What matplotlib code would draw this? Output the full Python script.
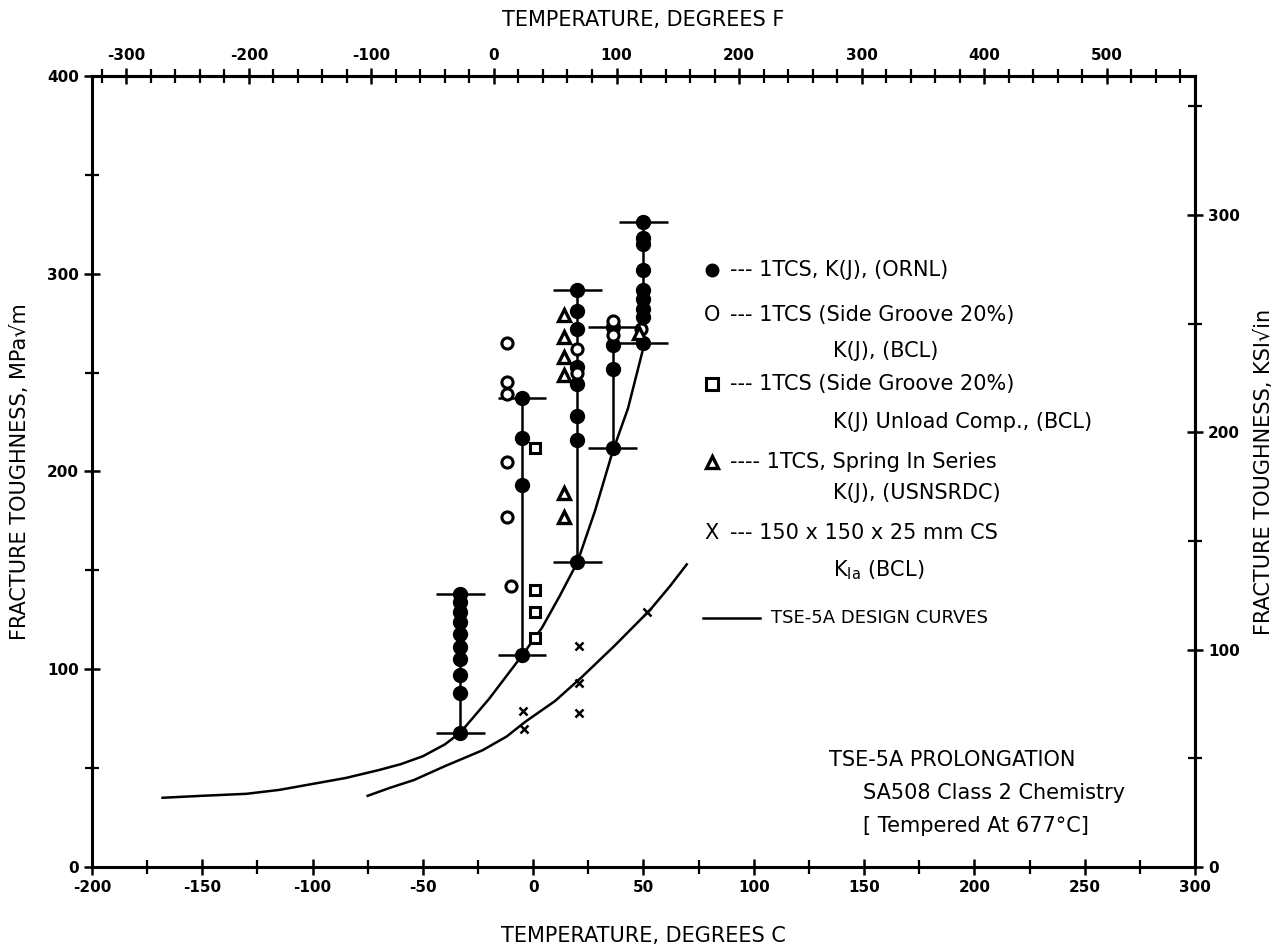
import matplotlib.pyplot as plt
from matplotlib.ticker import FixedLocator, MultipleLocator

plt.rc("font", family="DejaVu Sans")
plt.rc("axes", unicode_minus=False)

# 1TCS, K(J), ORNL -- one column of points per test temperature (deg C)
ornl_temps = [-33, -5, 20, 36, 50]
ornl_k = [
    [138, 134, 129, 124, 118, 111, 105, 97, 88, 68],
    [237, 217, 193, 107],
    [292, 281, 272, 253, 244, 228, 216, 154],
    [273, 264, 252, 212],
    [326, 318, 315, 302, 292, 287, 282, 278, 265],
]

# 1TCS side groove 20%, K(J), BCL
bcl_t = [-12, -12, -12, -12, -12, -10, 20, 20, 36, 36, 49]
bcl_k = [265, 245, 239, 205, 177, 142, 262, 250, 276, 269, 272]

# 1TCS side groove 20%, K(J) unload compliance, BCL
unload_t = [1, 1, 1, 1]
unload_k = [212, 140, 129, 116]

# 1TCS spring in series, K(J), USNSRDC
spring_t = [14, 14, 14, 14, 14, 14, 48]
spring_k = [279, 268, 258, 249, 189, 177, 270]

# 150 x 150 x 25 mm CS, KIa, BCL
kia_t = [-4.5, -4, 20.7, 20.9, 20.7, 51.7]
kia_k = [79, 70, 112, 93, 78, 129]

# TSE-5A design curves
upper_t = [-168, -150, -130, -115, -100, -85, -70, -60, -50, -40, -33, -20,
           -5, 4, 12, 20, 28, 36, 43, 50.5]
upper_k = [35, 36, 37, 39, 42, 45, 49, 52, 56, 62, 68, 85,
           107, 121, 137, 154, 180, 210, 232, 265]
lower_t = [-75, -65, -54, -40, -23, -12, -3.5, 10, 22, 37, 53, 62, 69.6]
lower_k = [36, 40, 44, 51, 59, 66, 73.5, 84, 96, 112, 130, 142, 153]

# secondary scales
f_labels = [-300, -200, -100, 0, 100, 200, 300, 400, 500]
ksi_labels = [0, 100, 200, 300]

legend_lines = [
    "--- 1TCS, K(J), (ORNL)",
    "--- 1TCS (Side Groove 20%)",
    "K(J), (BCL)",
    "--- 1TCS (Side Groove 20%)",
    "K(J) Unload Comp., (BCL)",
    "---- 1TCS, Spring In Series",
    "K(J), (USNSRDC)",
    "--- 150 x 150 x 25 mm CS",
    r"K$_{\mathrm{Ia}}$ (BCL)",
]


def c2f(t):
    return t * 9.0 / 5.0 + 32.0


def f2c(t):
    return (t - 32.0) * 5.0 / 9.0


def mpa2ksi(k):
    return k / 1.0988


def ksi2mpa(k):
    return k * 1.0988


fig = plt.figure(figsize=(12.88, 9.52), dpi=100)
ax = fig.add_axes([0.0714, 0.0893, 0.8564, 0.8309])

# design curves
ax.plot(upper_t, upper_k, color="black", lw=1.8, zorder=2)
ax.plot(lower_t, lower_k, color="black", lw=1.8, zorder=2)

# ORNL columns with range bars
for t, ks in zip(ornl_temps, ornl_k):
    ax.vlines(t, min(ks), max(ks), color="black", lw=1.8, zorder=2)
    ax.hlines([min(ks), max(ks)], t - 11, t + 11, color="black", lw=1.8, zorder=2)
    ax.plot([t] * len(ks), ks, "o", color="black", ms=10, zorder=3)

ax.plot(bcl_t, bcl_k, "o", mfc="white", mec="black", mew=2.2, ms=8, zorder=4)
ax.plot(unload_t, unload_k, "s", mfc="white", mec="black", mew=2.2, ms=7, zorder=4)
ax.plot(spring_t, spring_k, "^", mfc="white", mec="black", mew=2.4, ms=9, zorder=4)
ax.plot(kia_t, kia_k, "x", color="black", mew=1.8, ms=6, zorder=4)

ax.set_xlim(-200, 300)
ax.set_ylim(0, 400)
ax.xaxis.set_major_locator(MultipleLocator(50))
ax.xaxis.set_minor_locator(MultipleLocator(25))
ax.yaxis.set_major_locator(MultipleLocator(100))
ax.yaxis.set_minor_locator(MultipleLocator(50))

top = ax.secondary_xaxis("top", functions=(c2f, f2c))
top.xaxis.set_major_locator(FixedLocator(f_labels))
top.xaxis.set_minor_locator(FixedLocator(range(-320, 561, 20)))
right = ax.secondary_yaxis("right", functions=(mpa2ksi, ksi2mpa))
right.yaxis.set_major_locator(FixedLocator(ksi_labels))
right.yaxis.set_minor_locator(FixedLocator([50, 150, 250, 350]))

for a in (ax, top, right):
    a.tick_params(which="major", direction="inout", length=12, width=1.8,
                  labelsize=11)
    a.tick_params(which="minor", direction="inout", length=10, width=1.6)
    for lab in a.get_xticklabels() + a.get_yticklabels():
        lab.set_fontweight("bold")
    for s in a.spines.values():
        s.set_linewidth(2.2)
for s in ax.spines.values():
    s.set_linewidth(2.2)

ax.set_xlabel("TEMPERATURE, DEGREES C", fontsize=15, labelpad=22)
top.set_xlabel("TEMPERATURE, DEGREES F", fontsize=15, labelpad=16)
ax.set_ylabel("FRACTURE TOUGHNESS, MPa\u221am", fontsize=15, labelpad=12)
right.set_ylabel("FRACTURE TOUGHNESS, KSI\u221ain", fontsize=15, labelpad=10)

# hand-lettered legend
leg_y = [302, 279, 261, 244, 225, 205, 189, 169, 150]
indent = [False, False, True, False, True, False, True, False, True]
for text, y, ind in zip(legend_lines, leg_y, indent):
    ax.text(136 if ind else 89, y, text, fontsize=15, va="center", ha="left")
ax.plot(81, 302, "o", color="black", ms=9)
ax.text(81, 279, "O", fontsize=15, va="center", ha="center")
ax.plot(81, 244, "s", mfc="white", mec="black", mew=2.2, ms=8)
ax.plot(81, 205, "^", mfc="white", mec="black", mew=2.4, ms=9)
ax.text(81, 169, "X", fontsize=15, va="center", ha="center")
ax.plot([77, 103], [126, 126], color="black", lw=1.8)
ax.text(108, 126, "TSE-5A DESIGN CURVES", fontsize=13, va="center", ha="left")

ax.text(134, 54, "TSE-5A PROLONGATION", fontsize=15, va="center", ha="left")
ax.text(149.6, 37.4, "SA508 Class 2 Chemistry", fontsize=15, va="center", ha="left")
ax.text(149.6, 20.7, "[ Tempered At 677\u00b0C]", fontsize=15, va="center", ha="left")

fig.savefig("out.png", dpi=100)
